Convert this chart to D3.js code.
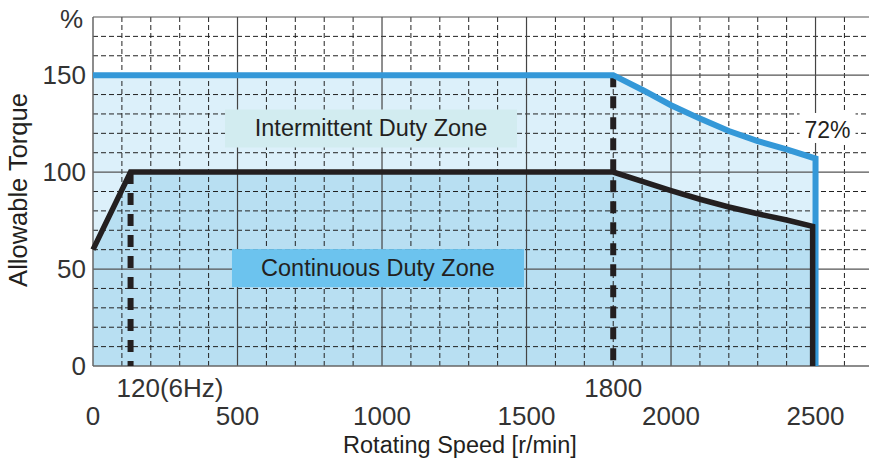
<!DOCTYPE html>
<html>
<head>
<meta charset="utf-8">
<script src="https://cdn.jsdelivr.net/npm/d3@7"></script>
<style>
  body { margin: 0; background: #fff; }
  text { font-family: "Liberation Sans", Arial, sans-serif; }
</style>
</head>
<body>
<script>
// values
var speedTicks = [0, 500, 1000, 1500, 2000, 2500];
var torqueTicks = [0, 50, 100, 150];

// continuous duty (black) and intermittent duty (blue) limits
var contSpeed = [0, 130, 1800, 2000, 2100, 2200, 2300, 2400, 2490];
var contTorque = [60, 100, 100, 90.5, 86, 82, 78.5, 75.3, 72];
var intSpeed = [0, 1800, 1900, 2000, 2100, 2200, 2300, 2400, 2500];
var intTorque = [150, 150, 142.5, 134.5, 127.6, 121.2, 116, 111.7, 107];

var markSpeeds = [130, 1800];
var markLabels = ['120(6Hz)', '1800'];

var width = 869, height = 463;

var svg = d3.select('body').append('svg')
    .attr('width', width)
    .attr('height', height);

// scales
var x = d3.scaleLinear().domain([0, 2685]).range([93, 869]);
var y = d3.scaleLinear().domain([0, 180]).range([366, 17]);

var contPts = contSpeed.map(function(s, i) { return [s, contTorque[i]]; });
var intPts = intSpeed.map(function(s, i) { return [s, intTorque[i]]; });

var area = d3.area()
    .x(function(d) { return x(d[0]); })
    .y0(y(0))
    .y1(function(d) { return y(d[1]); });

var line = d3.line()
    .x(function(d) { return x(d[0]); })
    .y(function(d) { return y(d[1]); });

// zone fills
svg.append('path').datum(intPts).attr('d', area).attr('fill', '#dcf0fa');
svg.append('path').datum(contPts).attr('d', area).attr('fill', '#b8dff2');

// grid
var g = svg.append('g');
var minorX = d3.range(100, 2700, 100).filter(function(v) { return v % 500 != 0; });
var minorY = d3.range(10, 180, 10).filter(function(v) { return v % 50 != 0; });

g.selectAll('.vx').data(minorX).enter().append('line')
    .attr('x1', function(d) { return x(d); }).attr('x2', function(d) { return x(d); })
    .attr('y1', y(180)).attr('y2', y(0))
    .attr('stroke', '#222').attr('stroke-width', 1).attr('stroke-dasharray', '5,3');

g.selectAll('.hy').data(minorY).enter().append('line')
    .attr('x1', x(0)).attr('x2', width)
    .attr('y1', function(d) { return y(d); }).attr('y2', function(d) { return y(d); })
    .attr('stroke', '#222').attr('stroke-width', 1).attr('stroke-dasharray', '5,3');

g.selectAll('.mx').data(speedTicks.slice(1)).enter().append('line')
    .attr('x1', function(d) { return x(d); }).attr('x2', function(d) { return x(d); })
    .attr('y1', y(180)).attr('y2', y(0))
    .attr('stroke', '#444').attr('stroke-width', 1.2);

g.selectAll('.my').data(torqueTicks.slice(1).concat([180])).enter().append('line')
    .attr('x1', x(0)).attr('x2', width)
    .attr('y1', function(d) { return y(d); }).attr('y2', function(d) { return y(d); })
    .attr('stroke', '#555').attr('stroke-width', 1.2);

// frame: left and bottom
svg.append('line').attr('x1', x(0)).attr('x2', x(0)).attr('y1', y(180)).attr('y2', y(0))
    .attr('stroke', '#666').attr('stroke-width', 1.5);
svg.append('line').attr('x1', x(0)).attr('x2', width).attr('y1', y(0)).attr('y2', y(0))
    .attr('stroke', '#666').attr('stroke-width', 1.5);

// zone labels
function zoneLabel(txt, sx, ty, fill) {
    var cx = x(sx), cy = y(ty);
    svg.append('rect').attr('x', cx - 146).attr('y', cy - 19)
        .attr('width', 292).attr('height', 38).attr('fill', fill);
    svg.append('text').attr('x', cx).attr('y', cy + 8)
        .attr('text-anchor', 'middle').attr('font-size', 23.5).attr('fill', '#231f20')
        .text(txt);
}
zoneLabel('Intermittent Duty Zone', 962, 122.5, '#d2ecf0');
zoneLabel('Continuous Duty Zone', 986, 50.5, '#6cc3ee');

// 72% note
svg.append('rect').attr('x', x(2500) - 16).attr('y', y(130.5))
    .attr('width', 56).attr('height', 30).attr('fill', '#fff');
svg.append('text').attr('x', x(2500) + 12).attr('y', y(117.5))
    .attr('text-anchor', 'middle').attr('font-size', 23).attr('fill', '#231f20')
    .text('72%');

// heavy dashed markers
svg.append('line').attr('x1', x(markSpeeds[0])).attr('x2', x(markSpeeds[0]))
    .attr('y1', y(100)).attr('y2', y(0))
    .attr('stroke', '#231f20').attr('stroke-width', 6).attr('stroke-dasharray', '12,9');
svg.append('line').attr('x1', x(markSpeeds[1])).attr('x2', x(markSpeeds[1]))
    .attr('y1', y(150)).attr('y2', y(0))
    .attr('stroke', '#231f20').attr('stroke-width', 6).attr('stroke-dasharray', '12,9');

// limit lines
svg.append('path').datum(intPts.concat([[2500, 0]])).attr('d', line)
    .attr('fill', 'none').attr('stroke', '#3498d8').attr('stroke-width', 6)
    .attr('stroke-linejoin', 'miter');
svg.append('path').datum(contPts.concat([[2490, 0]])).attr('d', line)
    .attr('fill', 'none').attr('stroke', '#231f20').attr('stroke-width', 5.5)
    .attr('stroke-linejoin', 'miter');

// tick labels
svg.selectAll('.yl').data(torqueTicks).enter().append('text')
    .attr('x', 86).attr('y', function(d) { return y(d) + 9; })
    .attr('text-anchor', 'end').attr('font-size', 26).attr('fill', '#333')
    .text(function(d) { return d; });

svg.append('text').attr('x', 83).attr('y', 28)
    .attr('text-anchor', 'end').attr('font-size', 26).attr('fill', '#333').text('%');

svg.selectAll('.xl').data(speedTicks).enter().append('text')
    .attr('x', function(d) { return x(d); }).attr('y', 425)
    .attr('text-anchor', 'middle').attr('font-size', 26).attr('fill', '#333')
    .text(function(d) { return d; });

svg.append('text').attr('x', 170).attr('y', 397)
    .attr('text-anchor', 'middle').attr('font-size', 26).attr('fill', '#333')
    .text(markLabels[0]);
svg.append('text').attr('x', x(markSpeeds[1])).attr('y', 397)
    .attr('text-anchor', 'middle').attr('font-size', 26).attr('fill', '#333')
    .text(markLabels[1]);

// axis titles
svg.append('text').attr('x', 460).attr('y', 453)
    .attr('text-anchor', 'middle').attr('font-size', 23.5).attr('fill', '#231f20')
    .text('Rotating Speed [r/min]');
svg.append('text').attr('transform', 'translate(27,190) rotate(-90)')
    .attr('text-anchor', 'middle').attr('font-size', 25.5).attr('fill', '#231f20')
    .text('Allowable Torque');
</script>
</body>
</html>
